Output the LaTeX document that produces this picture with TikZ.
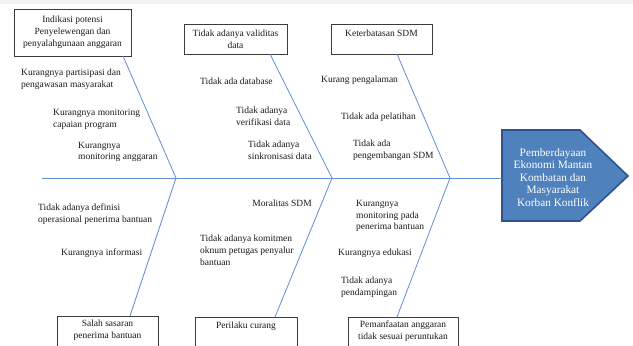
\documentclass[tikz,border=0pt]{standalone}
\usepackage{fontspec}
\setmainfont{Liberation Serif}
\definecolor{bone}{RGB}{98,142,210}
\definecolor{headfill}{RGB}{79,129,189}
\definecolor{headdraw}{RGB}{47,82,143}
\definecolor{boxdraw}{RGB}{60,60,60}
\begin{document}
\begin{tikzpicture}[x=1pt,y=-1pt,
  cause/.style={font=\fontsize{9.5}{11.8}\selectfont,inner sep=0pt,align=left,anchor=west,text=black!90},
  boxtxt/.style={font=\fontsize{9.5}{11.8}\selectfont,inner sep=0pt,align=center,text=black!90},
  cbox/.style={draw=boxdraw,line width=0.8pt,rectangle,inner sep=0pt},
  boneline/.style={draw=bone,line width=0.8pt}]
\useasboundingbox (0,0) rectangle (633,346);
\clip (0,0) rectangle (633,346);
\fill[black!5] (0,0) rectangle (633,3.5);

% boxes (top)
\node[cbox,minimum width=117pt,minimum height=47pt,boxtxt] (box1) at (72.5,32.5) {Indikasi potensi\\Penyelewengan dan\\penyalahgunaan anggaran};
\node[cbox,minimum width=103pt,minimum height=30pt,boxtxt] (box2) at (235.5,39) {Tidak adanya validitas\\data};
\node[cbox,minimum width=101pt,minimum height=30pt] (box3) at (381.5,39) {};
\node[boxtxt] (box3t) at (381.5,33) {Keterbatasan SDM};
% boxes (bottom)
\node[cbox,minimum width=101pt,minimum height=50pt] (box4) at (107.5,341) {};
\node[boxtxt] (box4t) at (107.5,330.5) {Salah sasaran\\penerima bantuan};
\node[cbox,minimum width=102pt,minimum height=50pt] (box5) at (246,342) {};
\node[boxtxt] (box5t) at (246,326) {Perilaku curang};
\node[cbox,minimum width=110pt,minimum height=50pt] (box6) at (403,342) {};
\node[boxtxt] (box6t) at (403,331.5) {Pemanfaatan anggaran\\tidak sesuai peruntukan};

% head
\coordinate (hA) at (502,130);
\coordinate (hB) at (580,130);
\coordinate (hC) at (628,176);
\coordinate (hD) at (580,221);
\coordinate (hE) at (502,221);
\draw[fill=headfill,draw=headdraw,line width=1.6pt,line join=miter] (hA) -- (hB) -- (hC) -- (hD) -- (hE) -- cycle;
\node[font=\fontsize{11.3}{12.4}\selectfont,align=center,text=white,inner sep=0pt] (head) at (553,177.5) {Pemberdayaan\\Ekonomi Mantan\\Kombatan dan\\Masyarakat\\Korban Konflik};

% spine
\coordinate (spineL) at (42,178);
\coordinate (spineR) at (502,178);
\coordinate (j1) at (176,178);
\coordinate (j2) at (332,178);
\coordinate (j3) at (450,178);
\draw[boneline] (spineL) -- (spineR);

% bones
\coordinate (b1t) at (123,56);
\coordinate (b2t) at (270,54);
\coordinate (b3t) at (397,54);
\coordinate (b4b) at (130,316);
\coordinate (b5b) at (275,317);
\coordinate (b6b) at (397,317);
\draw[boneline] (b1t) -- (j1) -- (b4b);
\draw[boneline] (b2t) -- (j2) -- (b5b);
\draw[boneline] (b3t) -- (j3) -- (b6b);

% causes top-left
\node[cause] (c1) at (21,79) {Kurangnya partisipasi dan\\pengawasan masyarakat};
\node[cause] (c2) at (53,119) {Kurangnya monitoring\\capaian program};
\node[cause] (c3) at (78,152) {Kurangnya\\monitoring anggaran};
% causes top-middle
\node[cause] (c4) at (200,81) {Tidak ada database};
\node[cause] (c5) at (236,116) {Tidak adanya\\verifikasi data};
\node[cause] (c6) at (248,150) {Tidak adanya\\sinkronisasi data};
% causes top-right
\node[cause] (c7) at (321,80) {Kurang pengalaman};
\node[cause] (c8) at (341,117) {Tidak ada pelatihan};
\node[cause] (c9) at (353,150) {Tidak ada\\pengembangan SDM};
% causes bottom-left
\node[cause] (c10) at (38,214) {Tidak adanya definisi\\operasional penerima bantuan};
\node[cause] (c11) at (61,253) {Kurangnya informasi};
% causes bottom-middle
\node[cause,anchor=east] (c12) at (312,203) {Moralitas SDM};
\node[cause] (c13) at (200,250) {Tidak adanya komitmen\\oknum petugas penyalur\\bantuan};
% causes bottom-right
\node[cause] (c14) at (356,216) {Kurangnya\\monitoring pada\\penerima bantuan};
\node[cause] (c15) at (338,253) {Kurangnya edukasi};
\node[cause] (c16) at (341,287) {Tidak adanya\\pendampingan};
\end{tikzpicture}
\end{document}
